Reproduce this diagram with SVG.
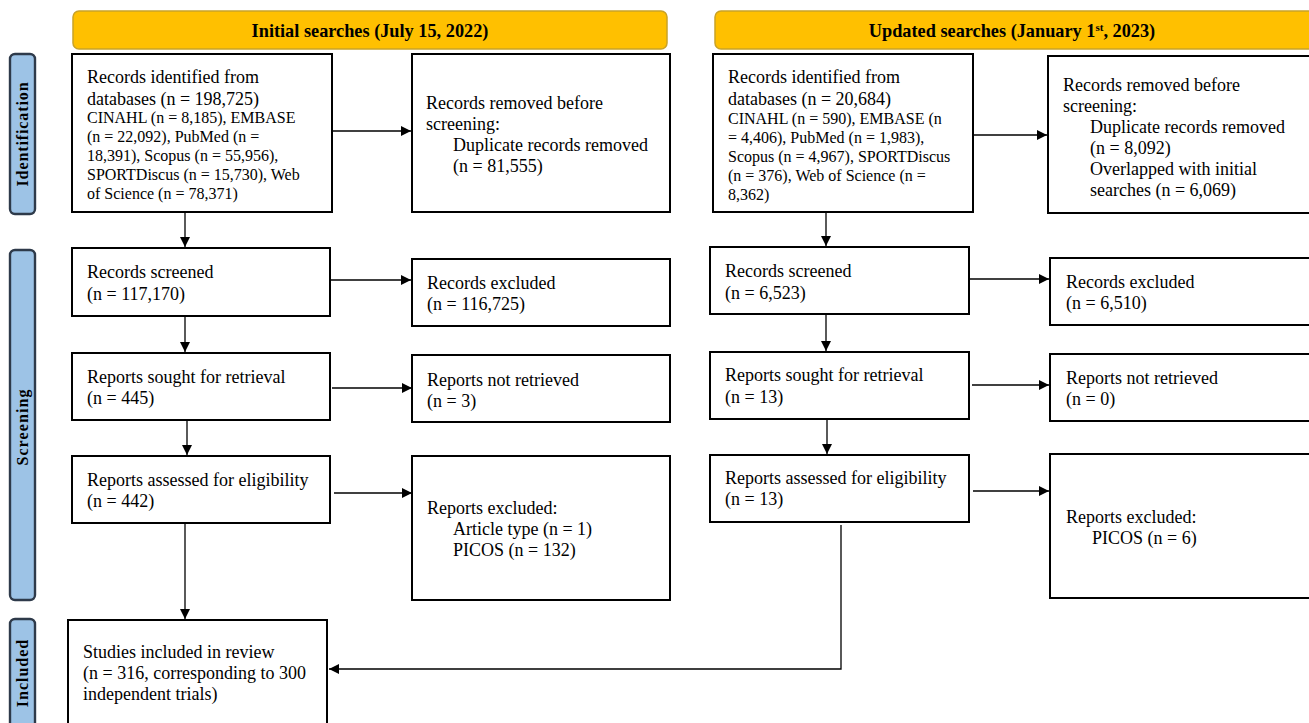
<svg xmlns="http://www.w3.org/2000/svg" width="1309" height="723" viewBox="0 0 1309 723">
<style>
text{font-family:"Liberation Serif","Times New Roman",serif;fill:#000}
.t{font-size:18px}
.s{font-size:16px}
.h{font-size:18.3px;font-weight:bold}
.side{font-size:16px;font-weight:bold}
.box{fill:#fff;stroke:#000;stroke-width:2}
.hdr{fill:#FFC000;stroke:#C9A227;stroke-width:1.5}
.lab{fill:#9DC3E6;stroke:#2E3A4A;stroke-width:2.4}
.c{fill:none;stroke:#000;stroke-width:1.3}
</style>
<defs>
<marker id="ah" markerUnits="userSpaceOnUse" markerWidth="11" markerHeight="11" refX="10" refY="5" orient="auto">
<path d="M0,0 L10,5 L0,10 z" fill="#000"/>
</marker>
</defs>
<rect width="1309" height="723" fill="#fff"/>

<g id="hdr-initial"><rect class="hdr" x="73" y="11" width="594" height="38" rx="6"/><text class="h" x="370" y="37" text-anchor="middle">Initial searches (July 15, 2022)</text></g>
<g id="hdr-updated"><rect class="hdr" x="715" y="11" width="610" height="38" rx="6"/><text class="h" x="1012" y="37" text-anchor="middle">Updated searches (January 1<tspan font-size="11" dy="-6">st</tspan><tspan dy="6">, 2023)</tspan></text></g>

<g id="lab-identification"><rect class="lab" x="10" y="54" width="25" height="160" rx="5"/><text class="side" transform="translate(28,134) rotate(-90)" text-anchor="middle" letter-spacing="0.9">Identification</text></g>
<g id="lab-screening"><rect class="lab" x="10" y="250" width="25" height="350" rx="5"/><text class="side" transform="translate(28,427) rotate(-90)" text-anchor="middle" letter-spacing="1.1">Screening</text></g>
<g id="lab-included"><rect class="lab" x="10" y="619" width="25" height="120" rx="5"/><text class="side" transform="translate(28,673) rotate(-90)" text-anchor="middle" letter-spacing="1">Included</text></g>

<g id="l-identified"><rect class="box" x="72" y="54" width="260" height="158"/>
<text class="t" x="87" y="83">Records identified from</text>
<text class="t" x="87" y="105">databases (n = 198,725)</text>
<text class="s" x="87" y="123">CINAHL (n = 8,185), EMBASE</text>
<text class="s" x="87" y="142">(n = 22,092), PubMed (n =</text>
<text class="s" x="87" y="161">18,391), Scopus (n = 55,956),</text>
<text class="s" x="87" y="180">SPORTDiscus (n = 15,730), Web</text>
<text class="s" x="87" y="199">of Science (n = 78,371)</text></g>
<g id="l-removed"><rect class="box" x="412" y="54" width="258" height="158"/>
<text class="t" x="426" y="109">Records removed before</text>
<text class="t" x="426" y="130">screening:</text>
<text class="t" x="453" y="151">Duplicate records removed</text>
<text class="t" x="453" y="172">(n = 81,555)</text></g>
<g id="l-screened"><rect class="box" x="72" y="248" width="258" height="68"/>
<text class="t" x="87" y="278">Records screened</text><text class="t" x="87" y="300">(n = 117,170)</text></g>
<g id="l-excluded"><rect class="box" x="412" y="259" width="258" height="67"/>
<text class="t" x="427" y="289">Records excluded</text><text class="t" x="427" y="310">(n = 116,725)</text></g>
<g id="l-sought"><rect class="box" x="72" y="353" width="258" height="67"/>
<text class="t" x="87" y="383">Reports sought for retrieval</text><text class="t" x="87" y="404">(n = 445)</text></g>
<g id="l-notretrieved"><rect class="box" x="412" y="355" width="258" height="67"/>
<text class="t" x="427" y="386">Reports not retrieved</text><text class="t" x="427" y="407">(n = 3)</text></g>
<g id="l-assessed"><rect class="box" x="72" y="456" width="258" height="67"/>
<text class="t" x="87" y="486">Reports assessed for eligibility</text><text class="t" x="87" y="507">(n = 442)</text></g>
<g id="l-repexcluded"><rect class="box" x="412" y="456" width="258" height="144"/>
<text class="t" x="427" y="514">Reports excluded:</text>
<text class="t" x="453" y="535">Article type (n = 1)</text>
<text class="t" x="453" y="556">PICOS (n = 132)</text></g>
<g id="included"><rect class="box" x="68" y="620" width="259" height="120"/>
<text class="t" x="83" y="658">Studies included in review</text>
<text class="t" x="83" y="679">(n = 316, corresponding to 300</text>
<text class="t" x="83" y="700">independent trials)</text></g>

<g id="r-identified"><rect class="box" x="713" y="54" width="260" height="158"/>
<text class="t" x="728" y="83">Records identified from</text>
<text class="t" x="728" y="105">databases (n = 20,684)</text>
<text class="s" x="728" y="124">CINAHL (n = 590), EMBASE (n</text>
<text class="s" x="728" y="143">= 4,406), PubMed (n = 1,983),</text>
<text class="s" x="728" y="162">Scopus (n = 4,967), SPORTDiscus</text>
<text class="s" x="728" y="181">(n = 376), Web of Science (n =</text>
<text class="s" x="728" y="200">8,362)</text></g>
<g id="r-removed"><rect class="box" x="1048" y="56" width="280" height="157"/>
<text class="t" x="1063" y="91">Records removed before</text>
<text class="t" x="1063" y="112">screening:</text>
<text class="t" x="1090" y="133">Duplicate records removed</text>
<text class="t" x="1090" y="154">(n = 8,092)</text>
<text class="t" x="1090" y="175">Overlapped with initial</text>
<text class="t" x="1090" y="196">searches (n = 6,069)</text></g>
<g id="r-screened"><rect class="box" x="710" y="247" width="259" height="67"/>
<text class="t" x="725" y="277">Records screened</text><text class="t" x="725" y="299">(n = 6,523)</text></g>
<g id="r-excluded"><rect class="box" x="1050" y="258" width="280" height="67"/>
<text class="t" x="1066" y="288">Records excluded</text><text class="t" x="1066" y="309">(n = 6,510)</text></g>
<g id="r-sought"><rect class="box" x="710" y="352" width="259" height="67"/>
<text class="t" x="725" y="381">Reports sought for retrieval</text><text class="t" x="725" y="403">(n = 13)</text></g>
<g id="r-notretrieved"><rect class="box" x="1050" y="354" width="280" height="67"/>
<text class="t" x="1066" y="384">Reports not retrieved</text><text class="t" x="1066" y="405">(n = 0)</text></g>
<g id="r-assessed"><rect class="box" x="710" y="455" width="259" height="67"/>
<text class="t" x="725" y="484">Reports assessed for eligibility</text><text class="t" x="725" y="505">(n = 13)</text></g>
<g id="r-repexcluded"><rect class="box" x="1050" y="454" width="280" height="144"/>
<text class="t" x="1066" y="523">Reports excluded:</text>
<text class="t" x="1092" y="544">PICOS (n = 6)</text></g>

<g id="connectors">
<line class="c" x1="332" y1="131" x2="411" y2="131" marker-end="url(#ah)"/>
<line class="c" x1="185" y1="212" x2="185" y2="247" marker-end="url(#ah)"/>
<line class="c" x1="330" y1="280" x2="411" y2="280" marker-end="url(#ah)"/>
<line class="c" x1="185" y1="316" x2="185" y2="352" marker-end="url(#ah)"/>
<line class="c" x1="332" y1="388" x2="412" y2="388" marker-end="url(#ah)"/>
<line class="c" x1="187" y1="420" x2="187" y2="455" marker-end="url(#ah)"/>
<line class="c" x1="334" y1="493" x2="412" y2="493" marker-end="url(#ah)"/>
<line class="c" x1="185" y1="523" x2="185" y2="619" marker-end="url(#ah)"/>
<line class="c" x1="973" y1="135" x2="1047" y2="135" marker-end="url(#ah)"/>
<line class="c" x1="826" y1="212" x2="826" y2="246" marker-end="url(#ah)"/>
<line class="c" x1="969" y1="279" x2="1049" y2="279" marker-end="url(#ah)"/>
<line class="c" x1="826" y1="314" x2="826" y2="351" marker-end="url(#ah)"/>
<line class="c" x1="972" y1="385" x2="1049" y2="385" marker-end="url(#ah)"/>
<line class="c" x1="827" y1="419" x2="827" y2="454" marker-end="url(#ah)"/>
<line class="c" x1="973" y1="491" x2="1049" y2="491" marker-end="url(#ah)"/>
<polyline class="c" points="841,525 841,669 329,669" marker-end="url(#ah)"/>
</g>
</svg>
